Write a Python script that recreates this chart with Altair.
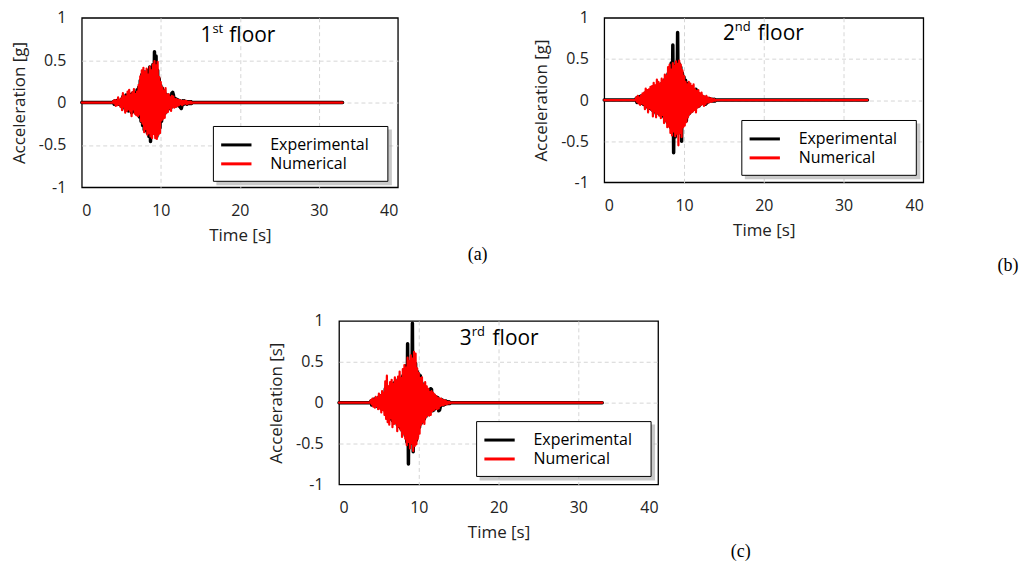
import altair as alt
import pandas as pd

FONT = "Open Sans"
SERIF = "Liberation Serif"

# ---------------- data ----------------
X_TICKS = [0, 10, 20, 30, 40]
Y_TICKS = [-1, -0.5, 0, 0.5, 1]
SERIES = ["Experimental", "Numerical"]

# quiet parts of the records (before and after the strong motion)
HEAD_T = [0.0, 1.0, 2.0, 3.0, 3.9]
HEAD_V = [0.0, 0.0, 0.0, 0.0, 0.0]
TAIL_T = [14.1, 16.0, 20.0, 24.0, 28.0, 33.0]
TAIL_V = [0.0, 0.0, 0.0, 0.0, 0.0, 0.0]

# strong-motion part: samples every 0.1 s from 4.0 s to 14.0 s
CORE_T0 = 4.0
CORE_DT = 0.1

# 1st floor
exp_1 = [0.01, -0.02, 0.02, -0.01, 0.02, -0.02, 0.03, -0.02, 0.02, -0.03,
         0.04, -0.05, 0.07, -0.05, 0.06, -0.08, 0.09, -0.07, 0.08, -0.10,
         0.10, -0.09, 0.08, -0.12, 0.11, -0.10, 0.12, -0.11, 0.10, -0.13,
         0.15, -0.14, 0.18, -0.17, 0.26, -0.22, 0.33, -0.27, 0.36, -0.32,
         0.36, -0.33, 0.34, -0.36, 0.38, -0.40, 0.42, -0.46, 0.38, -0.35,
         0.45, -0.33, 0.60, -0.37, 0.55, -0.40, 0.38, -0.36, 0.28, -0.30,
         0.20, -0.22, 0.17, -0.15, 0.14, -0.13, 0.10, -0.11, 0.09, -0.08,
         0.08, -0.07, 0.07, -0.06, 0.11, 0.12, 0.09, -0.04, 0.05, -0.04,
         0.04, -0.03, 0.03, -0.04, 0.02, -0.06, -0.07, -0.03, 0.02, -0.02,
         0.02, -0.01, 0.01, -0.02, 0.01, -0.01, 0.01, -0.01, 0.01, -0.01, 0.0]
num_1 = [0.02, -0.01, 0.03, -0.04, 0.02, -0.03, 0.06, -0.02, 0.03, -0.05,
         0.05, -0.09, 0.11, -0.05, 0.08, -0.12, 0.07, -0.10, 0.13, -0.08,
         0.15, -0.10, 0.09, -0.16, 0.12, -0.08, 0.16, -0.13, 0.10, -0.15,
         0.13, -0.16, 0.21, -0.14, 0.31, -0.22, 0.38, -0.25, 0.41, -0.35,
         0.36, -0.31, 0.40, -0.38, 0.33, -0.36, 0.42, -0.40, 0.38, -0.42,
         0.45, -0.37, 0.49, -0.42, 0.44, -0.43, 0.48, -0.38, 0.30, -0.36,
         0.24, -0.21, 0.18, -0.19, 0.14, -0.18, 0.17, -0.12, 0.09, -0.11,
         0.10, -0.07, 0.06, -0.10, 0.08, -0.05, 0.07, -0.06, 0.04, -0.05,
         0.04, -0.04, 0.03, -0.03, 0.03, -0.02, 0.02, -0.03, 0.02, -0.02,
         0.02, -0.01, 0.02, -0.02, 0.01, -0.01, 0.01, -0.01, 0.01, -0.01, 0.0]

# 2nd floor
exp_2 = [0.02, -0.03, 0.03, -0.02, 0.04, -0.03, 0.05, -0.04, 0.05, -0.05,
         0.07, -0.06, 0.09, -0.08, 0.10, -0.09, 0.11, -0.10, 0.12, -0.11,
         0.14, -0.13, 0.15, -0.14, 0.15, -0.16, 0.17, -0.15, 0.16, -0.17,
         0.18, -0.17, 0.20, -0.19, 0.22, -0.21, 0.25, -0.24, 0.28, -0.27,
         0.32, -0.30, 0.36, -0.33, 0.45, -0.38, 0.67, -0.64, 0.40, -0.45,
         0.42, -0.38, 0.82, -0.40, 0.44, -0.39, 0.40, -0.50, 0.33, -0.30,
         0.28, -0.26, 0.24, -0.25, 0.20, -0.18, 0.17, -0.16, 0.15, -0.14,
         0.14, -0.12, 0.12, -0.11, 0.11, 0.13, 0.10, -0.08, 0.08, -0.07,
         0.06, -0.05, 0.05, -0.04, 0.04, -0.04, 0.03, -0.05, -0.04, -0.03,
         0.02, -0.02, 0.02, -0.01, 0.01, -0.01, 0.01, -0.01, 0.01, -0.01, 0.0]
num_2 = [0.03, -0.02, 0.05, -0.04, 0.03, -0.06, 0.05, -0.04, 0.08, -0.05,
         0.09, -0.11, 0.14, -0.08, 0.12, -0.15, 0.13, -0.10, 0.16, -0.12,
         0.17, -0.20, 0.21, -0.14, 0.18, -0.21, 0.25, -0.16, 0.22, -0.19,
         0.20, -0.22, 0.26, -0.18, 0.24, -0.28, 0.31, -0.25, 0.29, -0.33,
         0.40, -0.32, 0.43, -0.40, 0.37, -0.43, 0.45, -0.38, 0.42, -0.44,
         0.47, -0.41, 0.44, -0.55, 0.48, -0.40, 0.43, -0.45, 0.36, -0.33,
         0.29, -0.31, 0.22, -0.27, 0.19, -0.21, 0.22, -0.17, 0.20, -0.15,
         0.17, -0.14, 0.19, -0.12, 0.13, -0.15, 0.11, -0.09, 0.12, -0.08,
         0.08, -0.06, 0.09, -0.05, 0.05, -0.07, 0.04, -0.05, 0.05, -0.03,
         0.03, -0.03, 0.02, -0.02, 0.02, -0.02, 0.01, -0.01, 0.01, -0.01, 0.0]

# 3rd floor
exp_3 = [0.02, -0.03, 0.03, -0.02, 0.04, -0.03, 0.05, -0.04, 0.05, -0.05,
         0.07, -0.06, 0.08, -0.07, 0.09, -0.08, 0.10, -0.09, 0.17, -0.14,
         0.20, -0.18, 0.18, -0.19, 0.17, -0.20, 0.21, -0.22, 0.23, -0.24,
         0.25, -0.23, 0.26, -0.27, 0.28, -0.29, 0.30, -0.31, 0.30, -0.34,
         0.33, -0.36, 0.38, -0.40, 0.45, -0.48, 0.72, -0.75, 0.45, -0.50,
         0.50, -0.48, 0.97, -0.60, 0.52, -0.50, 0.48, -0.46, 0.38, -0.34,
         0.35, -0.30, 0.33, -0.25, 0.24, -0.22, 0.21, -0.20, 0.19, -0.17,
         0.15, -0.14, 0.14, -0.13, 0.13, 0.17, 0.16, -0.10, 0.10, -0.09,
         0.08, -0.07, 0.07, -0.06, 0.06, -0.10, -0.09, -0.05, 0.04, -0.03,
         0.03, -0.03, 0.02, -0.02, 0.02, -0.01, 0.01, -0.01, 0.01, -0.01, 0.0]
num_3 = [0.03, -0.02, 0.05, -0.05, 0.04, -0.06, 0.07, -0.04, 0.06, -0.08,
         0.11, -0.07, 0.09, -0.12, 0.14, -0.09, 0.12, -0.15, 0.26, -0.20,
         0.33, -0.24, 0.20, -0.27, 0.25, -0.19, 0.28, -0.30, 0.23, -0.26,
         0.31, -0.25, 0.27, -0.35, 0.32, -0.29, 0.38, -0.33, 0.30, -0.42,
         0.41, -0.38, 0.46, -0.44, 0.43, -0.52, 0.55, -0.48, 0.51, -0.56,
         0.58, -0.50, 0.54, -0.59, 0.62, -0.53, 0.60, -0.51, 0.42, -0.44,
         0.36, -0.38, 0.30, -0.27, 0.31, -0.24, 0.22, -0.26, 0.25, -0.18,
         0.20, -0.15, 0.17, -0.16, 0.13, -0.15, 0.14, -0.10, 0.12, -0.09,
         0.10, -0.07, 0.08, -0.08, 0.06, -0.07, 0.05, -0.04, 0.05, -0.03,
         0.03, -0.03, 0.03, -0.02, 0.02, -0.02, 0.01, -0.01, 0.01, -0.01, 0.0]


def build_df(exp_core, num_core):
    rows = []
    for name, core in zip(SERIES, (exp_core, num_core)):
        ts = HEAD_T + [round(CORE_T0 + CORE_DT * i, 2) for i in range(len(core))] + TAIL_T
        vs = HEAD_V + core + TAIL_V
        rows += [{"t": t, "a": v, "series": name} for t, v in zip(ts, vs)]
    return pd.DataFrame(rows)


ONE = pd.DataFrame({"k": [0]})

LEG_W, LEG_H = 175, 55


def txt(text, x, y, size, font=FONT, align="left", baseline="alphabetic"):
    return alt.Chart(ONE).mark_text(
        text=text, font=font, fontSize=size, align=align, baseline=baseline, color="#000"
    ).encode(x=alt.value(x), y=alt.value(y))


def panel(df, ylab, w, h, num, sup, tx, sx, fx, ty, bx, by, label, plx, ply):
    xenc = alt.X("t:Q", scale=alt.Scale(domain=[0, 40], nice=False),
                 axis=alt.Axis(values=X_TICKS, title="Time [s]", labelExpr="toString(datum.value)",
                               labelPadding=15, titlePadding=9,
                               gridOpacity={"condition": {"test": "datum.value == 0 || datum.value == 40",
                                                          "value": 0}, "value": 1}))
    yenc = alt.Y("a:Q", scale=alt.Scale(domain=[-1, 1], nice=False),
                 axis=alt.Axis(values=Y_TICKS, title=ylab, labelExpr="toString(datum.value)",
                               labelPadding=16, titlePadding=10,
                               gridOpacity={"condition": {"test": "abs(datum.value) == 1",
                                                          "value": 0}, "value": 1}))
    color = alt.Color("series:N", scale=alt.Scale(domain=SERIES, range=["#000000", "#ff0000"]),
                      legend=alt.Legend(orient="none", legendX=bx + 12, legendY=by + 7.5, title=None,
                                        direction="vertical", padding=0,
                                        symbolType="M-1.6,0H1.6", symbolSize=361, symbolOffset=0,
                                        symbolStrokeWidth=3, labelFont=FONT, labelFontSize=16,
                                        labelColor="#000", labelOffset=23, rowPadding=0))
    base = alt.Chart(df)
    exp_line = base.transform_filter(alt.datum.series == "Experimental").mark_line(
        strokeWidth=3.5, strokeCap="round", strokeJoin="round").encode(x=xenc, y=yenc, color=color)
    num_line = base.transform_filter(alt.datum.series == "Numerical").mark_line(
        strokeWidth=2.2, strokeCap="round", strokeJoin="round").encode(x=xenc, y=yenc, color=color)
    shadow = alt.Chart(ONE).mark_rect(color="#9c9c9c", opacity=0.55).encode(
        x=alt.value(bx + 3), x2=alt.value(bx + LEG_W + 4),
        y=alt.value(by + 3), y2=alt.value(by + LEG_H + 4))
    box = alt.Chart(ONE).mark_rect(fill="#ffffff", stroke="#000000", strokeWidth=1).encode(
        x=alt.value(bx), x2=alt.value(bx + LEG_W), y=alt.value(by), y2=alt.value(by + LEG_H))
    layers = [exp_line, num_line, shadow, box,
              txt(num, tx, ty, 21), txt(sup, sx, ty - 9, 13), txt("floor", fx, ty, 21),
              txt(label, plx, ply, 18, font=SERIF, align="center", baseline="middle")]
    return alt.layer(*layers).properties(width=w, height=h)


pa = panel(build_df(exp_1, num_1), "Acceleration [g]", 317, 170, "1", "st", 119, 131, 148, 24,
           132, 109, "(a)", 397, 238)
pb = panel(build_df(exp_2, num_2), "Acceleration [g]", 320, 165, "2", "nd", 119, 131, 154, 22,
           138, 103, "(b)", 405, 249)
pc = panel(build_df(exp_3, num_3), "Acceleration [s]", 320, 164, "3", "rd", 121, 133, 154, 24,
           138, 101, "(c)", 403, 232)

spacer = alt.Chart(ONE).mark_point(opacity=0).encode(
    x=alt.value(0), y=alt.value(0)).properties(width=200, height=10,
                                               view=alt.ViewBackground(strokeOpacity=0))

top = alt.hconcat(pa, pb, spacing=207, bounds="flush").resolve_scale(color="independent")
bottom = alt.hconcat(spacer, pc, spacing=58, bounds="flush").resolve_scale(color="independent")

chart = alt.vconcat(top, bottom, spacing=36).resolve_scale(color="independent").properties(
    padding={"left": 1, "top": 0, "right": 0, "bottom": 0}
).configure_view(
    stroke="#000", strokeWidth=1.3
).configure_axis(
    grid=True, gridColor="#d6d6d6", gridDash=[4, 3], gridWidth=1,
    domain=False, ticks=False,
    labelFont=FONT, labelFontSize=16, labelColor="#222",
    titleFont=FONT, titleFontSize=17, titleFontWeight="normal", titleColor="#222"
)

chart.save("out.html", embed_options={"renderer": "svg", "actions": False})
